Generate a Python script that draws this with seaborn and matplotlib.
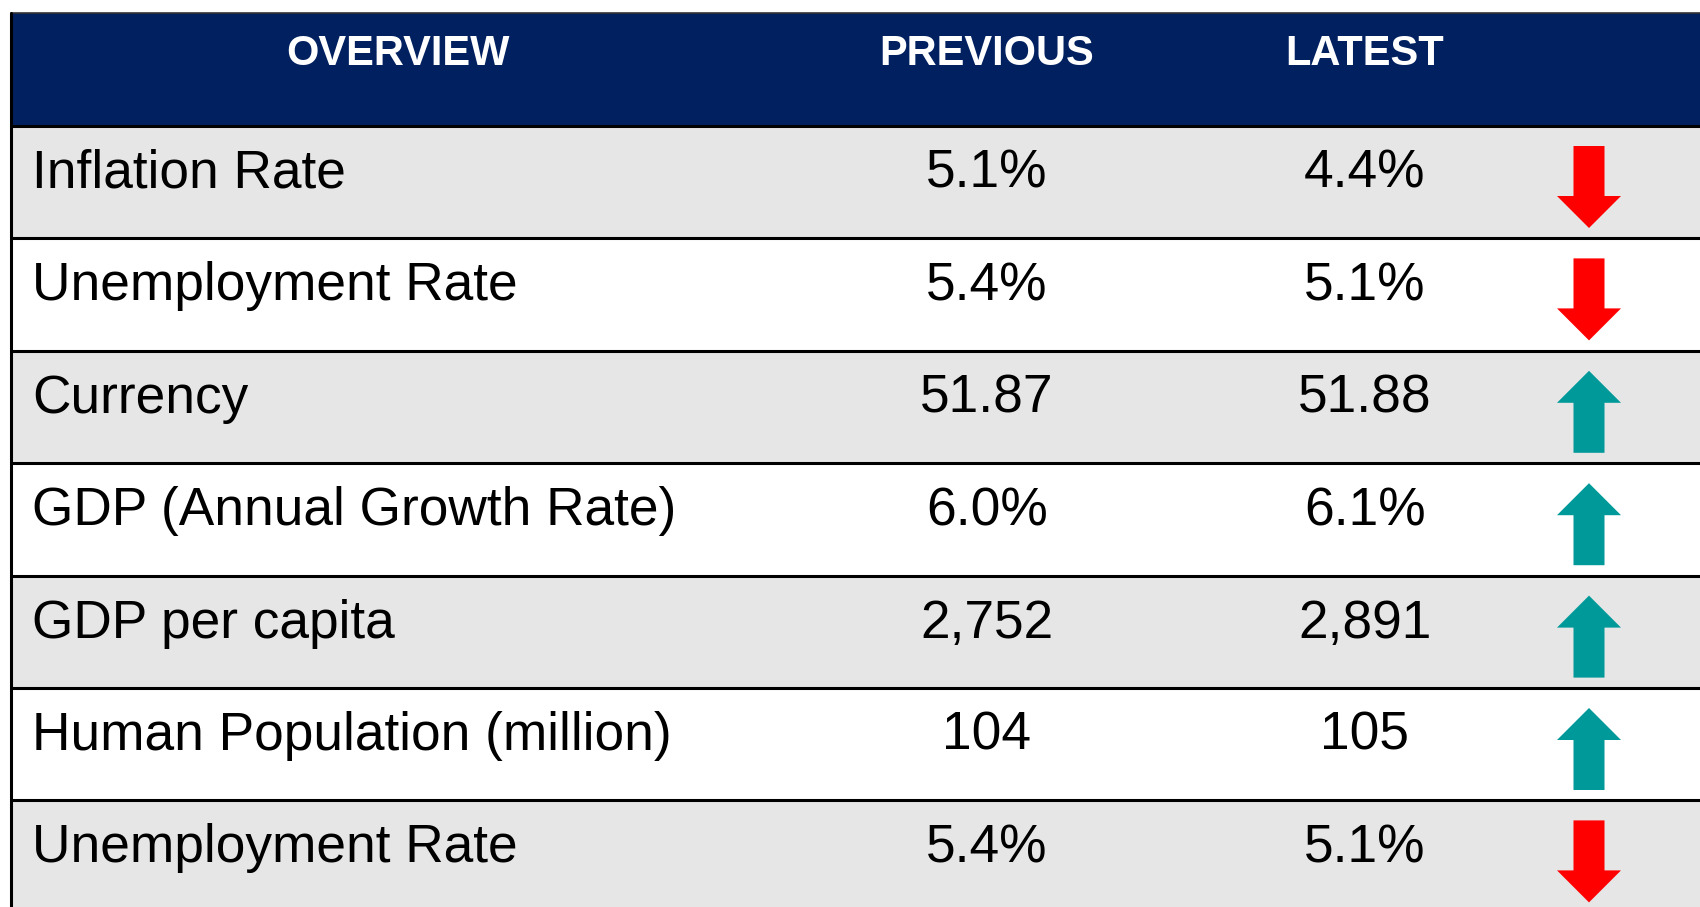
import seaborn as sns
import matplotlib.pyplot as plt
from matplotlib.patches import Rectangle, Polygon

# table contents
headers = ["OVERVIEW", "PREVIOUS", "LATEST"]
overview = ["Inflation Rate", "Unemployment Rate", "Currency", "GDP (Annual Growth Rate)",
            "GDP per capita", "Human Population (million)", "Unemployment Rate"]
previous = ["5.1%", "5.4%", "51.87", "6.0%", "2,752", "104", "5.4%"]
latest = ["4.4%", "5.1%", "51.88", "6.1%", "2,891", "105", "5.1%"]
trend = ["down", "down", "up", "up", "up", "up", "down"]

sns.set_theme(style="white")
plt.rcParams['font.family'] = ['Liberation Sans', 'DejaVu Sans']

W, H = 1700, 907
fig = plt.figure(figsize=(17, 9.07), dpi=100)
ax = fig.add_axes([0, 0, 1, 1])
ax.set_xlim(0, W)
ax.set_ylim(H, 0)
ax.axis("off")

navy = "#002060"
grey = "#E6E6E6"
red = "#FF0000"
teal = "#009999"

left = 11
top = 13
head_h = 113
row_h = 112.4
col_x = [32, 987, 1365]
arrow_x = 1589

# header
ax.add_patch(Rectangle((left, top), W - left + 5, head_h, facecolor=navy, edgecolor="none"))
ax.plot([left, W], [top, top], color="#333333", lw=1.2)
ax.text(398, top + 52, headers[0], color="white", fontsize=30, fontweight="bold",
        ha="center", va="baseline")
for x, h in zip(col_x[1:], headers[1:]):
    ax.text(x, top + 52, h, color="white", fontsize=30, fontweight="bold",
            ha="center", va="baseline")

y0 = top + head_h
for i in range(len(overview)):
    ry = y0 + i * row_h
    fc = grey if i % 2 == 0 else "white"
    ax.add_patch(Rectangle((left, ry), W - left + 5, row_h, facecolor=fc, edgecolor="none"))
    ax.plot([left, W], [ry, ry], color="black", lw=2.2, solid_capstyle="butt")
    base = ry + 62
    ax.text(col_x[0], base, overview[i], fontsize=38.3, color="black", ha="left", va="baseline")
    ax.text(col_x[1], base, previous[i], fontsize=38.3, color="black", ha="center", va="baseline")
    ax.text(col_x[2], base, latest[i], fontsize=38.3, color="black", ha="center", va="baseline")

    # arrow glyph
    a0, a1 = ry + 20, ry + 102
    sw, hw, hl = 15.5, 32, 32
    if trend[i] == "down":
        pts = [(arrow_x - sw, a0), (arrow_x + sw, a0), (arrow_x + sw, a1 - hl),
               (arrow_x + hw, a1 - hl), (arrow_x, a1), (arrow_x - hw, a1 - hl),
               (arrow_x - sw, a1 - hl)]
        col = red
    else:
        pts = [(arrow_x - sw, a1), (arrow_x + sw, a1), (arrow_x + sw, a0 + hl),
               (arrow_x + hw, a0 + hl), (arrow_x, a0), (arrow_x - hw, a0 + hl),
               (arrow_x - sw, a0 + hl)]
        col = teal
    ax.add_patch(Polygon(pts, closed=True, facecolor=col, edgecolor="none"))

# left border
ax.plot([left, left], [top, H], color="black", lw=2.2)

fig.savefig("out.png", dpi=100)
